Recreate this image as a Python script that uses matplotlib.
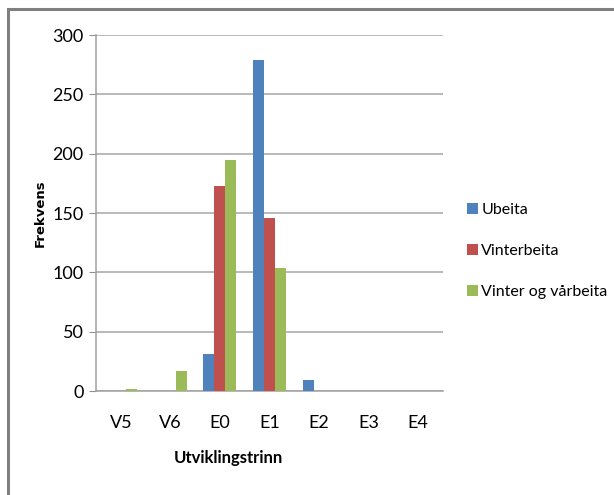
import matplotlib
matplotlib.use("Agg")
import matplotlib.pyplot as plt
from matplotlib.patches import Rectangle
import numpy as np
from matplotlib import font_manager

categories = ["V5", "V6", "E0", "E1", "E2", "E3", "E4"]
ubeita = [0, 0, 31, 279, 9, 0, 0]
vinterbeita = [0, 0, 173, 146, 0, 0, 0]
vinter_var = [1.5, 17, 195, 104, 0, 0, 0]
series_names = ["Ubeita", "Vinterbeita", "Vinter og vårbeita"]
colors = ["#4F81BD", "#C0504D", "#9BBB59"]
yticks = [0, 50, 100, 150, 200, 250, 300]

avail = {f.name for f in font_manager.fontManager.ttflist}
narrow = "Liberation Sans Narrow" if "Liberation Sans Narrow" in avail else "Lato"

fig = plt.figure(figsize=(6.14, 4.95), dpi=100)
ax = fig.add_axes([96/614, 1-391/495, 347/614, 356/495])

x = np.arange(len(categories))
w = 0.222
for i, (vals, name, c) in enumerate(zip([ubeita, vinterbeita, vinter_var], series_names, colors)):
    ax.bar(x + (i - 1) * w, vals, width=w, color=c, label=name, zorder=3)

ax.set_xlim(-0.5, len(categories) - 0.5)
ax.set_ylim(0, 300)
ax.set_yticks(yticks)
ax.set_yticklabels([str(t) for t in yticks], fontfamily=narrow, fontsize=13)
ax.set_xticks(x)
ax.set_xticklabels(categories, fontfamily=narrow, fontsize=13)
ax.tick_params(axis="x", length=0, pad=17)
ax.tick_params(axis="y", length=5, color="#909090", pad=4)
ax.grid(axis="y", color="#A6A6A6", linewidth=1.1, zorder=0)
for s in ["top", "right"]:
    ax.spines[s].set_visible(False)
for s in ["left", "bottom"]:
    ax.spines[s].set_color("#A0A0A0")
    ax.spines[s].set_linewidth(1.1)

fig.text(228/614, 1-458/495, "Utviklingstrinn", fontfamily=narrow, fontweight="bold",
         fontsize=12, ha="center", va="center")
fig.text(40/614, 1-213/495, "Frekvens", fontfamily="DejaVu Sans", fontweight="bold",
         fontsize=9.5, rotation=90, ha="center", va="center")

leg = fig.legend(loc="center left", bbox_to_anchor=(467/614, 1-251/495), frameon=False,
                 prop={"family": narrow, "size": 11.5}, handlelength=0.7, handleheight=0.7,
                 handletextpad=0.2, labelspacing=1.7, borderpad=0, borderaxespad=0)

fig.patches.append(Rectangle((8/614, -0.1), 1.2, 1 - 9/495 + 0.1, transform=fig.transFigure,
                             fill=False, edgecolor="#808080", linewidth=2.2))

fig.savefig("out.png", dpi=100)
